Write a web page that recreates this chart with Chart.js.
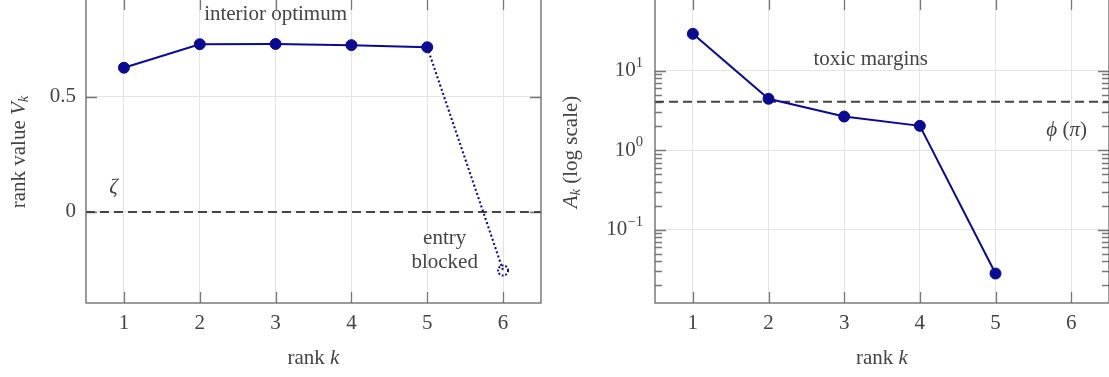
<!DOCTYPE html>
<html>
<head>
<meta charset="utf-8">
<script src="https://cdn.jsdelivr.net/npm/chart.js@4.4.0/dist/chart.umd.min.js"></script>
<style>
  html, body { margin: 0; padding: 0; background: #fff; width: 1109px; height: 377px; overflow: hidden; }
  canvas { position: absolute; top: -1px; }
  #graficoValor { left: 0; }
  #graficoMargem { left: 555px; }
</style>
</head>
<body>
<canvas id="graficoValor" width="556" height="378"></canvas>
<canvas id="graficoMargem" width="554" height="378"></canvas>
<script>
// dados
var ranks = [1, 2, 3, 4, 5, 6];
var valorRank = [0.625, 0.727, 0.728, 0.723, 0.714, -0.254];
var zeta = 0;
var ticksValor = [0, 0.5];

var ranksMargem = [1, 2, 3, 4, 5];
var margemA = [29.2, 4.45, 2.66, 2.03, 0.0282];
var phiPi = 4.07;
var expoentes = [-2, -1, 0, 1];

var azul = "#0a0a92";
var cinzaTexto = "#444";
var fonte = '"Liberation Serif", "DejaVu Serif", serif';
var tamFonte = 21;

function fonteCss(tam, italico) {
  return (italico ? "italic " : "") + tam + "px " + fonte;
}

// desenha texto com partes em italico / subscrito, centrado em (x, y)
function textoMisto(ctx, partes, x, y, tam, alinhar) {
  var total = 0;
  partes.forEach(function (p) {
    ctx.font = fonteCss(tam * (p.s || 1), p.i);
    p.w = ctx.measureText(p.t).width;
    total += p.w;
  });
  var inicio = x - total / 2;
  if (alinhar === "right") inicio = x - total;
  ctx.fillStyle = cinzaTexto;
  ctx.textAlign = "left";
  ctx.textBaseline = "middle";
  partes.forEach(function (p) {
    ctx.font = fonteCss(tam * (p.s || 1), p.i);
    ctx.fillText(p.t, inicio, y + (p.dy || 0) * tam);
    inicio += p.w;
  });
}

function textoVertical(ctx, partes, x, y, tam) {
  ctx.save();
  ctx.translate(x, y);
  ctx.rotate(-Math.PI / 2);
  textoMisto(ctx, partes, 0, 0, tam);
  ctx.restore();
}

// moldura, marcas internas e linha de referencia
function pluginMoldura(valorRef) {
  return {
    id: "moldura",
    beforeDatasetsDraw: function (chart) {
      var ctx = chart.ctx, a = chart.chartArea;
      var sx = chart.scales.x, sy = chart.scales.y;
      ctx.save();
      ctx.strokeStyle = "#777";
      ctx.lineWidth = 1.3;
      sx.ticks.forEach(function (t) {
        var px = Math.round(sx.getPixelForValue(t.value)) + 0.5;
        ctx.beginPath();
        ctx.moveTo(px, a.bottom); ctx.lineTo(px, a.bottom - 11);
        ctx.moveTo(px, a.top); ctx.lineTo(px, a.top + 11);
        ctx.stroke();
      });
      sy.ticks.forEach(function (t) {
        var py = Math.round(sy.getPixelForValue(t.value)) + 0.5;
        if (py < a.top || py > a.bottom) return;
        var tam = t.major === false ? 7 : 11;
        ctx.beginPath();
        ctx.moveTo(a.left, py); ctx.lineTo(a.left + tam, py);
        ctx.moveTo(a.right, py); ctx.lineTo(a.right - tam, py);
        ctx.stroke();
      });
      // linha tracejada
      var yr = sy.getPixelForValue(valorRef);
      ctx.strokeStyle = "#444";
      ctx.lineWidth = 2;
      ctx.setLineDash([9, 5]);
      ctx.beginPath();
      ctx.moveTo(a.left, yr); ctx.lineTo(a.right, yr);
      ctx.stroke();
      ctx.setLineDash([]);
      ctx.strokeStyle = "#666";
      ctx.lineWidth = 1.3;
      ctx.strokeRect(a.left, a.top, a.right - a.left, a.bottom - a.top);
      ctx.restore();
    }
  };
}

var pluginTextosValor = {
  id: "textosValor",
  afterDraw: function (chart) {
    var ctx = chart.ctx, a = chart.chartArea;
    var sx = chart.scales.x, sy = chart.scales.y;
    // circulo pontilhado do ultimo rank
    var meta = chart.getDatasetMeta(0);
    var p = meta.data[ranks.length - 1];
    ctx.save();
    ctx.strokeStyle = azul;
    ctx.lineWidth = 2;
    ctx.setLineDash([1.8, 1.8]);
    ctx.beginPath();
    ctx.arc(p.x, p.y, 5, 0, Math.PI * 2);
    ctx.stroke();
    ctx.restore();

    ticksValor.forEach(function (v) {
      textoMisto(ctx, [{ t: String(v) }], a.left - 10, sy.getPixelForValue(v), tamFonte, "right");
    });
    textoMisto(ctx, [{ t: "interior optimum" }], sx.getPixelForValue(3), sy.getPixelForValue(0.854), tamFonte);
    textoMisto(ctx, [{ t: "entry" }], sx.getPixelForValue(5.23), sy.getPixelForValue(-0.117), tamFonte);
    textoMisto(ctx, [{ t: "blocked" }], sx.getPixelForValue(5.23), sy.getPixelForValue(-0.221), tamFonte);
    textoMisto(ctx, [{ t: "ζ", i: true }], sx.getPixelForValue(0.864), sy.getPixelForValue(0.104), tamFonte);
    textoMisto(ctx, [{ t: "rank " }, { t: "k", i: true }], (a.left + a.right) / 2, 359, tamFonte);
    textoVertical(ctx, [{ t: "rank value " }, { t: "V", i: true }, { t: "k", i: true, s: 0.7, dy: 0.25 }], 19, 153, tamFonte);
  }
};

var pluginTextosMargem = {
  id: "textosMargem",
  afterDraw: function (chart) {
    var ctx = chart.ctx, a = chart.chartArea;
    var sx = chart.scales.x, sy = chart.scales.y;
    sy.ticks.forEach(function (t) {
      if (!t.major) return;
      var py = sy.getPixelForValue(t.value);
      if (py < a.top || py > a.bottom) return;
      var e = Math.round(Math.log10(t.value));
      var sup = e < 0 ? "\u2212" + (-e) : String(e);
      textoMisto(ctx, [{ t: "10" }, { t: sup, s: 0.7, dy: -0.38 }], a.left - 12, py, tamFonte, "right");
    });
    textoMisto(ctx, [{ t: "toxic margins" }], sx.getPixelForValue(3.35), sy.getPixelForValue(14.0), tamFonte);
    textoMisto(ctx, [{ t: "\u03d5", i: true }, { t: " (" }, { t: "π", i: true }, { t: ")" }], sx.getPixelForValue(5.94), sy.getPixelForValue(1.8), tamFonte);
    textoMisto(ctx, [{ t: "rank " }, { t: "k", i: true }], (a.left + a.right) / 2, 359, tamFonte);
    textoVertical(ctx, [{ t: "A", i: true }, { t: "k", i: true, s: 0.7, dy: 0.25 }, { t: " (log scale)" }], 16, 153, tamFonte);
  }
};

function eixoX() {
  return {
    type: "linear",
    min: 0.5,
    max: 6.5,
    afterBuildTicks: function (s) {
      s.ticks = ranks.map(function (r) { return { value: r }; });
    },
    afterFit: function (s) { s.height = 74; },
    grid: { color: "#e4e4e4", lineWidth: 1, drawTicks: false },
    border: { display: false },
    ticks: {
      padding: 8,
      color: cinzaTexto,
      font: { family: fonte, size: tamFonte },
      callback: function (v) { return String(v); }
    }
  };
}

function plotarValor() {
  var pontos = ranks.map(function (r, i) { return { x: r, y: valorRank[i] }; });
  var ultimo = ranks.length - 1;
  var config = {
    type: "line",
    data: {
      datasets: [{
        data: pontos,
        borderColor: azul,
        borderWidth: 2,
        pointRadius: ranks.map(function (r, i) { return i === ultimo ? 0 : 5.5; }),
        pointBackgroundColor: azul,
        pointBorderColor: azul,
        pointBorderWidth: 1,
        segment: {
          borderDash: function (c) { return c.p1DataIndex === ultimo ? [2, 2.4] : undefined; },
          borderWidth: function (c) { return c.p1DataIndex === ultimo ? 2.1 : undefined; }
        }
      }]
    },
    options: {
      responsive: false,
      animation: false,
      layout: { autoPadding: false, padding: { top: 0, right: 15, left: 0, bottom: 0 } },
      plugins: { legend: { display: false }, tooltip: { enabled: false } },
      scales: {
        x: eixoX(),
        y: {
          type: "linear",
          min: -0.395,
          max: 0.923,
          afterBuildTicks: function (s) {
            s.ticks = ticksValor.map(function (v) { return { value: v }; });
          },
          afterFit: function (s) { s.width = 86; },
          grid: { color: "#e4e4e4", lineWidth: 1, drawTicks: false },
          border: { display: false },
          ticks: { display: false }
        }
      }
    },
    plugins: [pluginMoldura(zeta), pluginTextosValor]
  };
  return new Chart(document.getElementById("graficoValor"), config);
}

function plotarMargem() {
  var pontos = ranksMargem.map(function (r, i) { return { x: r, y: margemA[i] }; });
  var minY = 0.012, maxY = 80;
  var config = {
    type: "line",
    data: {
      datasets: [{
        data: pontos,
        borderColor: azul,
        borderWidth: 2,
        pointRadius: 5.5,
        pointBackgroundColor: azul,
        pointBorderColor: azul,
        pointBorderWidth: 1
      }]
    },
    options: {
      responsive: false,
      animation: false,
      layout: { autoPadding: false, padding: { top: 0, right: 0, left: 0, bottom: 0 } },
      plugins: { legend: { display: false }, tooltip: { enabled: false } },
      scales: {
        x: eixoX(),
        y: {
          type: "logarithmic",
          min: minY,
          max: maxY,
          afterBuildTicks: function (s) {
            var lista = [];
            expoentes.forEach(function (e) {
              for (var m = 1; m <= 9; m++) {
                var v = m * Math.pow(10, e);
                // marcas menores so ate 10^1
                if ((m === 1 || e < 1) && v >= minY && v <= maxY) lista.push({ value: v, major: m === 1 });
              }
            });
            s.ticks = lista;
          },
          afterFit: function (s) { s.width = 100; },
          grid: {
            color: function (c) { return c.tick && c.tick.major ? "#e4e4e4" : "rgba(0,0,0,0)"; },
            lineWidth: 1,
            drawTicks: false
          },
          border: { display: false },
          ticks: { display: false }
        }
      }
    },
    plugins: [pluginMoldura(phiPi), pluginTextosMargem]
  };
  return new Chart(document.getElementById("graficoMargem"), config);
}

plotarValor();
plotarMargem();
</script>
</body>
</html>
